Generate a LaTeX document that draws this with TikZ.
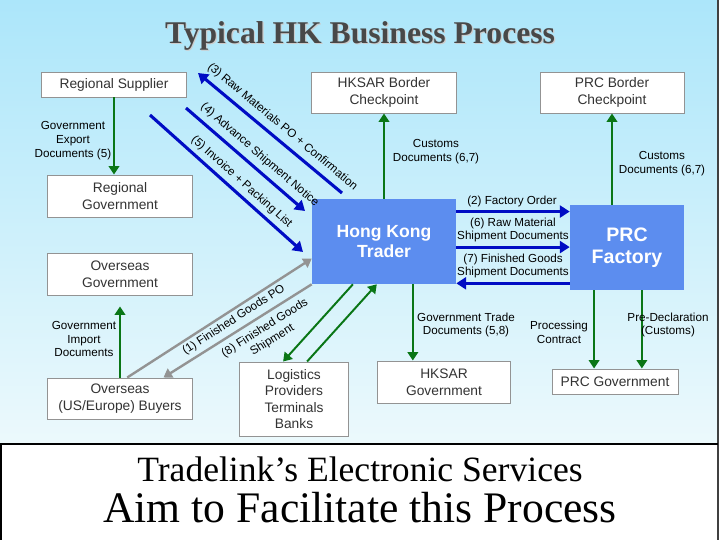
\documentclass[tikz,border=0pt]{standalone}
\usepackage{fontspec}
\setmainfont{Liberation Serif}
\setsansfont{Liberation Sans}
\usetikzlibrary{arrows.meta,calc}

\definecolor{skytop}{RGB}{172,230,250}
\definecolor{skybot}{RGB}{236,249,252}
\definecolor{hkblue}{RGB}{92,141,239}
\definecolor{flowblue}{RGB}{0,12,196}
\definecolor{docgreen}{RGB}{10,118,22}
\definecolor{titlegray}{RGB}{72,72,72}

\begin{document}
\begin{tikzpicture}[x=0.025cm,y=-0.025cm,
  box/.style={draw=gray!85,fill=white,line width=0.7pt,align=center,inner sep=0pt,
    font=\sffamily\fontsize{9.8}{11.8}\selectfont,text=black!80},
  hub/.style={fill=hkblue,align=center,inner sep=0pt,text=white,
    font=\sffamily\bfseries\fontsize{12.5}{14.2}\selectfont},
  lbl/.style={align=center,inner sep=1pt,font=\sffamily\fontsize{8.3}{9.9}\selectfont},
  govarr/.style={draw=docgreen,line width=1.4pt,-{Triangle[width=7.5pt,length=6pt]}},
  flowarr/.style={draw=flowblue,line width=2.2pt,-{Triangle[width=8.5pt,length=7pt]}},
  buyarr/.style={draw=gray!85,line width=1.7pt,-{Triangle[width=7.5pt,length=6pt]}}]
  \useasboundingbox (0,0) rectangle (720,540);

  % Panels
  \fill[top color=skytop,bottom color=skybot] (0,0) rectangle (718,444);
  \draw[line width=1.4pt,black!75] (718,0) -- (718,540); % right edge
  \draw[line width=1.4pt] (0,444) -- (718,444);
  \draw[line width=1.4pt] (1,444) -- (1,540);

  % Title
  \node[font=\bfseries\fontsize{22.5}{27}\selectfont,text=gray!40] (titleshade) at (361.2,37.2) {Typical HK Business Process};
  \node[font=\bfseries\fontsize{22.5}{27}\selectfont,text=titlegray] (title) at (360,36) {Typical HK Business Process};

  % Left column
  \node[box,minimum width=3.6cm,minimum height=0.625cm] (supplier) at (114,84.5) {Regional Supplier};
  \node[box,minimum width=3.6cm,minimum height=1.05cm] (regov) at (120,196) {Regional\\Government};
  \node[box,minimum width=3.6cm,minimum height=1.05cm] (ovgov) at (120,274) {Overseas\\Government};
  \node[box,minimum width=3.6cm,minimum height=1.025cm] (buyers) at (120,398.5) {Overseas\\(US/Europe) Buyers};

  % Checkpoints
  \node[box,minimum width=3.6cm,minimum height=1.025cm] (hkbc) at (384,92.5) {HKSAR Border\\Checkpoint};
  \node[box,minimum width=3.6cm,minimum height=1.025cm] (prcbc) at (612,92.5) {PRC Border\\Checkpoint};

  % Trader and factory
  \node[hub,minimum width=3.6cm,minimum height=2.125cm] (trader) at (384,241.5) {Hong Kong\\Trader};
  \node[hub,minimum width=2.85cm,minimum height=2.125cm,font=\sffamily\bfseries\fontsize{13.9}{16}\selectfont] (factory) at (627,247.5) {PRC\\Factory};

  % Bottom row
  \node[box,minimum width=2.7cm,minimum height=1.85cm] (logistics) at (294,399) {Logistics\\Providers\\Terminals\\Banks};
  \node[box,minimum width=3.3cm,minimum height=1.05cm] (hkgov) at (444,382) {HKSAR\\Government};
  \node[box,minimum width=3.15cm,minimum height=0.625cm] (prcgov) at (615,381.5) {PRC Government};

  % Government documents
  \draw[govarr] (supplier.south) -- (supplier.south |- regov.north);
  \node[lbl] (exportdoc) at (73,141) {Government\\Export\\Documents (5)};
  \draw[govarr] (buyers.north) -- ([yshift=-7.8pt]buyers.north |- ovgov.south);
  \node[lbl] (importdoc) at (84,339) {Government\\Import\\Documents};
  \draw[govarr] (trader.north) -- (hkbc.south);
  \node[lbl] (hkcustoms) at (436,152) {Customs\\Documents (6,7)};
  \draw[govarr] (prcbc.south |- factory.north) -- (prcbc.south);
  \node[lbl] (prccustoms) at (662,164) {Customs\\Documents (6,7)};
  \coordinate (hg) at ([xshift=20.5pt]trader.south);
  \draw[govarr] (hg) -- (hg |- hkgov.north);
  \node[lbl] (tradedoc) at (466,325) {Government Trade\\Documents (5,8)};
  \coordinate (pg1) at ([xshift=-14.9pt]prcgov.north);
  \coordinate (pg2) at ([xshift=19.1pt]prcgov.north);
  \draw[govarr] (pg1 |- factory.south) -- (pg1);
  \draw[govarr] (pg2 |- factory.south) -- (pg2);
  \node[lbl] (contract) at (559,332) {Processing\\Contract};
  \node[lbl] (predecl) at (668,325) {Pre-Declaration\\(Customs)};

  % Logistics
  \draw[govarr] ($(trader.south west)!0.285!(trader.south east)$) -- ($(logistics.north west)!0.4!(logistics.north east)$);
  \draw[govarr] ($(logistics.north west)!0.62!(logistics.north east)$) -- ($(trader.south west)!0.45!(trader.south east)$);

  % Trader <-> factory
  \coordinate (fo) at ($(trader.north east)!0.15!(trader.south east)$);
  \coordinate (rs) at ($(trader.north east)!0.565!(trader.south east)$);
  \draw[flowarr] (fo) -- (fo -| factory.west);
  \draw[flowarr] (rs) -- (rs -| factory.west);
  \draw[flowarr] ([yshift=0.7pt]trader.south east -| factory.west) -- ([yshift=0.7pt]trader.south east);
  \node[lbl] (order) at (512,201) {(2) Factory Order};
  \node[lbl] (rawdoc) at (513,230) {(6) Raw Material\\Shipment Documents};
  \node[lbl] (findoc) at (513,266) {(7) Finished Goods\\Shipment Documents};

  % Supplier <-> trader
  \coordinate (rm1) at (342,193);
  \coordinate (rm2) at (198,73);
  \coordinate (as1) at (186,108);
  \coordinate (as2) at (305,211);
  \coordinate (iv1) at (150,115);
  \coordinate (iv2) at (303,252);
  \draw[flowarr] (rm1) -- node[lbl,sloped,above=3pt,pos=0.47] {(3) Raw Materials PO + Confirmation} (rm2);
  \draw[flowarr] (as1) -- node[lbl,sloped,above=3pt,pos=0.55] {(4) Advance Shipment Notice} (as2);
  \draw[flowarr] (iv1) -- node[lbl,sloped,above=2pt,pos=0.55] {(5) Invoice + Packing List} (iv2);

  % Buyers <-> trader
  \draw[buyarr] ($(buyers.north west)!0.55!(buyers.north east)$) -- node[lbl,sloped,below=1pt,pos=0.55] {(1) Finished Goods PO} ($(trader.south west)!0.3!(trader.north west)$);
  \draw[buyarr] (trader.south west) -- node[lbl,sloped,below=3pt,pos=0.36] {(8) Finished Goods\\Shipment} ($(buyers.north west)!0.8!(buyers.north east)$);

  % Footer
  \node[font=\fontsize{25.3}{30}\selectfont] (services) at (360,469) {Tradelink’s Electronic Services};
  \node[font=\fontsize{31}{36}\selectfont] (aim) at (360,508) {Aim to Facilitate this Process};
\end{tikzpicture}
\end{document}
